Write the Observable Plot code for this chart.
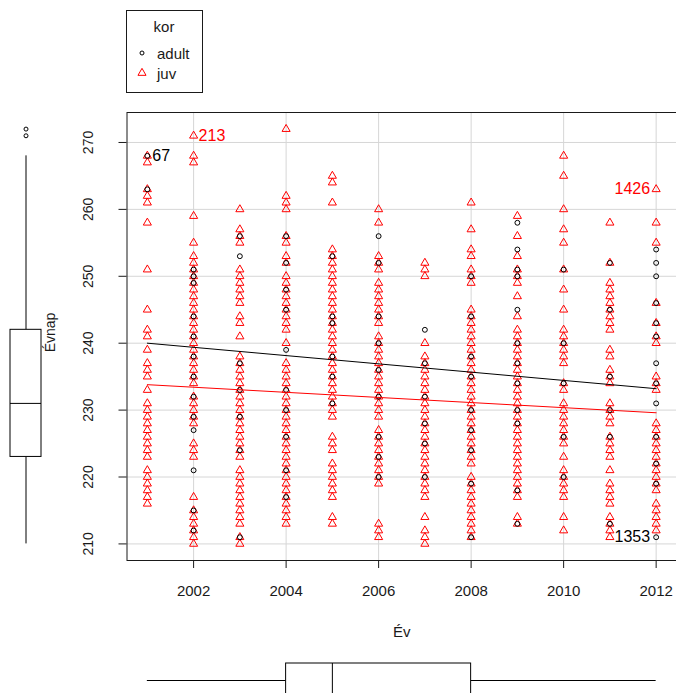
<!DOCTYPE html>
<html>
<head>
<meta charset="utf-8">
<script src="https://cdn.jsdelivr.net/npm/d3@7"></script>
<script src="https://cdn.jsdelivr.net/npm/@observablehq/plot@0.6"></script>
<style>
  html, body { margin: 0; padding: 0; background: #fff; overflow: hidden; }
  #chart { position: relative; width: 676px; height: 693px; overflow: hidden; }
  #chart > * { position: absolute; left: 0; top: 0; }
</style>
</head>
<body>
<div id="chart"></div>
<script>
// Hatching day (Évnap) by year (Év), split by age class (kor)
const years = [2001, 2002, 2003, 2004, 2005, 2006, 2007, 2008, 2009, 2010, 2011, 2012];
const groups = ["adult", "juv"];

// Juvenile observations, one list per year (same order as `years`)
const juvDays = [
  [268, 267, 263, 262, 261, 258, 251, 245, 242, 241, 239, 237, 236, 235, 233, 231, 230, 229, 228, 227, 226, 225, 224, 223, 221, 220, 219, 218, 217, 216],
  [271, 268, 267, 259, 255, 253, 252, 251, 250, 249, 248, 247, 246, 245, 244, 243, 242, 241, 240, 239, 238, 237, 236, 235, 234, 232, 231, 230, 229, 228, 225, 224, 223, 217, 215, 214, 213, 212, 211, 210],
  [260, 257, 256, 255, 251, 250, 249, 248, 247, 246, 244, 243, 241, 238, 237, 236, 235, 234, 233, 232, 231, 230, 229, 228, 227, 226, 225, 224, 223, 221, 220, 219, 218, 217, 216, 215, 214, 213, 211, 210],
  [272, 262, 261, 260, 256, 255, 253, 252, 250, 249, 248, 247, 246, 245, 244, 243, 242, 240, 237, 236, 235, 234, 233, 232, 231, 230, 229, 228, 227, 226, 225, 224, 223, 222, 221, 220, 219, 218, 217, 216, 215, 214, 213],
  [265, 264, 261, 254, 253, 252, 251, 250, 249, 248, 247, 246, 245, 244, 243, 242, 241, 240, 239, 238, 237, 236, 235, 234, 233, 232, 231, 230, 229, 226, 225, 224, 222, 221, 220, 219, 218, 217, 214, 213],
  [260, 258, 253, 252, 251, 249, 248, 247, 246, 245, 244, 243, 241, 240, 239, 238, 237, 236, 235, 234, 233, 232, 231, 230, 229, 227, 226, 225, 224, 223, 222, 221, 220, 219, 213, 212, 211],
  [252, 251, 250, 240, 238, 237, 236, 235, 234, 233, 232, 231, 230, 229, 228, 227, 226, 225, 224, 223, 222, 221, 220, 219, 218, 217, 214, 212, 211, 210],
  [261, 257, 254, 253, 251, 250, 249, 245, 244, 243, 242, 241, 240, 239, 238, 237, 236, 235, 234, 233, 232, 231, 230, 229, 228, 227, 226, 225, 224, 223, 222, 220, 219, 218, 217, 216, 215, 214, 213, 212, 211],
  [259, 256, 253, 251, 250, 249, 247, 244, 242, 241, 240, 239, 238, 237, 236, 235, 234, 233, 232, 231, 230, 229, 228, 227, 226, 225, 224, 223, 222, 221, 220, 219, 218, 217, 214, 213],
  [268, 265, 260, 257, 255, 251, 248, 245, 242, 241, 240, 239, 238, 237, 234, 233, 231, 230, 229, 228, 227, 226, 225, 223, 221, 220, 219, 218, 217, 214, 212],
  [258, 252, 249, 248, 247, 246, 245, 244, 243, 242, 239, 238, 236, 235, 234, 231, 230, 229, 228, 226, 225, 224, 223, 221, 219, 218, 217, 216, 214, 213, 212, 211],
  [263, 258, 255, 246, 243, 241, 240, 235, 234, 233, 228, 227, 226, 225, 224, 223, 222, 221, 220, 219, 218, 216, 215, 214, 213, 212]
];

// Adult observations, one list per year
const adultDays = [
  [268, 263],
  [251, 250, 249, 244, 241, 238, 235, 232, 229, 227, 221, 215, 212],
  [256, 253, 237, 233, 229, 224, 211],
  [256, 252, 248, 245, 239, 233, 230, 226, 221, 217],
  [253, 244, 243, 238, 235, 231],
  [256, 252, 244, 240, 236, 232, 226, 223, 220],
  [242, 237, 232, 228, 225, 220],
  [250, 244, 238, 235, 230, 227, 224, 219, 211],
  [258, 254, 251, 250, 245, 240, 237, 234, 230, 228, 218, 213],
  [251, 240, 234, 226, 220],
  [252, 245, 235, 230, 226, 213],
  [254, 252, 250, 246, 243, 241, 237, 234, 231, 226, 222, 219, 211]
];

// Least-squares fits per group, evaluated at the first and last year
const fitYears = [2001, 2012];
const fitAdult = [240.0, 233.2];
const fitJuv = [233.8, 229.6];

// Identified points
const idLabels = ["67", "213", "1426", "1353"];
const idYears = [2001, 2002, 2012, 2012];
const idDays = [268, 271, 263, 211];
const idGroups = ["adult", "juv", "juv", "adult"];

// Axis ticks and titles
const xTicks = [2002, 2004, 2006, 2008, 2010, 2012];
const yTicks = [210, 220, 230, 240, 250, 260, 270];
const xTitle = "Év";
const yTitle = "Évnap";
const legendTitle = "kor";

// Marginal boxplot summaries: [lower whisker, Q1, median, Q3, upper whisker]
const dayBoxStats = [210, 223, 231, 242, 268];
const dayOutliers = [272, 271];
const yearBoxStats = [2001, 2004, 2005, 2008, 2012];

// ---- layout & style ----
const FONT = "'Liberation Sans', Arial, Helvetica, sans-serif";
const W = 676, H = 693;
const frame = {left: 126.5, top: 112, right: 676, bottom: 560};
const colorRange = ["#000000", "#ff0000"];
const symbolRange = ["circle", "triangle"];
const sizeOf = {adult: 2, juv: 3};

// R-style axis extension: data range widened by 4% on each side
function padded([lo, hi]) { const p = (hi - lo) * 0.04; return [lo - p, hi + p]; }
const xDomain = padded(d3.extent(years));
const yDomain = padded(d3.extent([...juvDays.flat(), ...adultDays.flat()]));

// Tidy point table: adults first so juveniles are drawn over them
const points = [];
years.forEach((yr, i) => adultDays[i].forEach(d => points.push({year: yr, day: d, kor: "adult"})));
years.forEach((yr, i) => juvDays[i].forEach(d => points.push({year: yr, day: d, kor: "juv"})));

const fits = [
  ...fitYears.map((yr, i) => ({year: yr, day: fitAdult[i], kor: "adult"})),
  ...fitYears.map((yr, i) => ({year: yr, day: fitJuv[i], kor: "juv"}))
];

const ids = idLabels.map((t, i) => ({label: t, year: idYears[i], day: idDays[i], kor: idGroups[i]}));
const lastYear = d3.max(years);
const idsRight = ids.filter(d => d.year < lastYear);
const idsLeft = ids.filter(d => d.year >= lastYear);

const chart = document.getElementById("chart");

const main = Plot.plot({
  width: W,
  height: H,
  marginLeft: frame.left,
  marginRight: W - frame.right,
  marginTop: frame.top,
  marginBottom: H - frame.bottom,
  style: {fontFamily: FONT, fontSize: "15px", background: "transparent", color: "#000"},
  x: {domain: xDomain, axis: null},
  y: {domain: yDomain, axis: null},
  color: {domain: groups, range: colorRange},
  symbol: {domain: groups, range: symbolRange},
  marks: [
    Plot.gridX(xTicks, {stroke: "#d6d6d6", strokeOpacity: 1, strokeWidth: 1}),
    Plot.gridY(yTicks, {stroke: "#d6d6d6", strokeOpacity: 1, strokeWidth: 1}),
    Plot.dot(points, {
      x: "year", y: "day", symbol: "kor", stroke: "kor",
      r: d => sizeOf[d.kor], strokeWidth: 1, fill: "none"
    }),
    Plot.line(fits, {x: "year", y: "day", z: "kor", stroke: "kor", strokeWidth: 1}),
    Plot.frame({stroke: "#1a1a1a", strokeWidth: 1}),
    Plot.axisX(xTicks, {
      tickSize: 8, tickPadding: 17, tickFormat: d => String(d),
      label: null, stroke: "#1a1a1a", fill: "#1a1a1a", fontSize: 15
    }),
    Plot.axisY(yTicks, {tickSize: 8, tickFormat: () => "", label: null, stroke: "#1a1a1a"}),
    Plot.text(yTicks, {
      y: d => d, text: d => String(d), frameAnchor: "left", dx: -38,
      rotate: -90, textAnchor: "middle", lineAnchor: "middle", fontSize: 14, fill: "#1a1a1a"
    }),
    Plot.text([xTitle], {text: d => d, frameAnchor: "bottom", dy: 72, textAnchor: "middle", lineAnchor: "middle", fontSize: 15, fill: "#1a1a1a"}),
    Plot.text([yTitle], {text: d => d, frameAnchor: "left", dx: -76, dy: -4, rotate: -90, textAnchor: "middle", lineAnchor: "middle", fontSize: 14, fill: "#1a1a1a"}),
    Plot.text(idsRight, {x: "year", y: "day", text: "label", fill: "kor", textAnchor: "start", dx: 5, fontSize: 16}),
    Plot.text(idsLeft, {x: "year", y: "day", text: "label", fill: "kor", textAnchor: "end", dx: -6, fontSize: 16})
  ]
});
main.style.overflow = "visible";
chart.appendChild(main);

// Marginal boxplot of Évnap on the left, sharing the y scale
const [dLo, dQ1, dMed, dQ3, dHi] = dayBoxStats;
const leftBox = Plot.plot({
  width: 60,
  height: H,
  marginLeft: 10,
  marginRight: 19,
  marginTop: frame.top,
  marginBottom: H - frame.bottom,
  style: {background: "transparent"},
  x: {type: "band", domain: [yTitle], padding: 0, axis: null},
  y: {domain: yDomain, axis: null},
  marks: [
    Plot.ruleX([yTitle], {x: d => d, y1: dQ3, y2: dHi, stroke: "#000"}),
    Plot.ruleX([yTitle], {x: d => d, y1: dLo, y2: dQ1, stroke: "#000"}),
    Plot.barY([yTitle], {x: d => d, y1: dQ1, y2: dQ3, fill: "#fff", stroke: "#000", strokeWidth: 1}),
    Plot.tickY([yTitle], {x: d => d, y: dMed, stroke: "#000", strokeWidth: 1}),
    Plot.dot(dayOutliers, {x: () => yTitle, y: d => d, r: 2, stroke: "#000", strokeWidth: 1})
  ]
});
chart.appendChild(leftBox);

// Marginal boxplot of Év at the bottom, sharing the x scale
const [yLo, yQ1, yMed, yQ3, yHi] = yearBoxStats;
const bottomBox = Plot.plot({
  width: W,
  height: 700,
  marginLeft: frame.left,
  marginRight: W - frame.right,
  marginTop: 663,
  marginBottom: 3,
  style: {background: "transparent"},
  x: {domain: xDomain, axis: null},
  y: {type: "band", domain: [xTitle], padding: 0, axis: null},
  marks: [
    Plot.ruleY([xTitle], {y: d => d, x1: yLo, x2: yQ1, stroke: "#000"}),
    Plot.ruleY([xTitle], {y: d => d, x1: yQ3, x2: yHi, stroke: "#000"}),
    Plot.barX([xTitle], {y: d => d, x1: yQ1, x2: yQ3, fill: "#fff", stroke: "#000", strokeWidth: 1}),
    Plot.tickX([xTitle], {y: d => d, x: yMed, stroke: "#000", strokeWidth: 1})
  ]
});
chart.appendChild(bottomBox);

// Legend box for kor
const legend = d3.create("svg")
  .attr("width", 78).attr("height", 86)
  .style("left", "126px").style("top", "8px")
  .style("font-family", FONT);
legend.append("rect").attr("x", 0.5).attr("y", 2.5).attr("width", 76).attr("height", 82)
  .attr("fill", "#fff").attr("stroke", "#1a1a1a");
legend.append("text").attr("x", 38).attr("y", 18).attr("text-anchor", "middle")
  .attr("dominant-baseline", "central").attr("font-size", 15).attr("fill", "#1a1a1a").text(legendTitle);
const symbolType = {circle: d3.symbolCircle, triangle: d3.symbolTriangle};
groups.forEach((g, i) => {
  const yy = 45 + i * 20;
  const r = sizeOf[g];
  legend.append("path")
    .attr("transform", `translate(16,${yy})`)
    .attr("d", d3.symbol(symbolType[symbolRange[i]], r * r * Math.PI)())
    .attr("fill", "none").attr("stroke", colorRange[i]).attr("stroke-width", 1);
  legend.append("text").attr("x", 31).attr("y", yy).attr("dominant-baseline", "central")
    .attr("font-size", 15).attr("fill", "#1a1a1a").text(g);
});
chart.appendChild(legend.node());
</script>
</body>
</html>
